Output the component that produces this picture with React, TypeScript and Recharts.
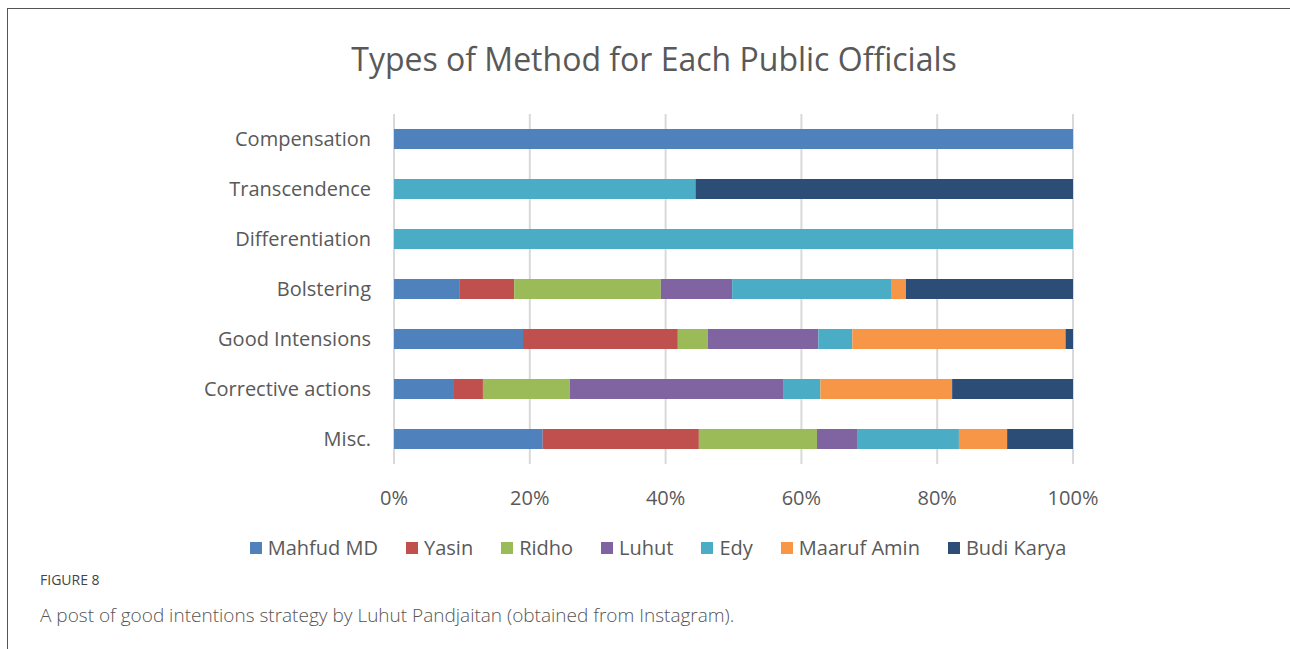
import React from "react";
import {
  BarChart,
  Bar,
  XAxis,
  YAxis,
  CartesianGrid,
} from "recharts";

// categories, top to bottom
const categories = [
  "Compensation",
  "Transcendence",
  "Differentiation",
  "Bolstering",
  "Good Intensions",
  "Corrective actions",
  "Misc.",
];

// share (%) per official in each category
const mahfudMD = [100, 0, 0, 9.7, 19.0, 8.7, 21.9];
const yasin = [0, 0, 0, 8.0, 22.8, 4.4, 23.0];
const ridho = [0, 0, 0, 21.6, 4.4, 12.8, 17.4];
const luhut = [0, 0, 0, 10.5, 16.3, 31.5, 6.0];
const edy = [0, 44.4, 100, 23.4, 5.0, 5.4, 14.9];
const maarufAmin = [0, 0, 0, 2.2, 31.4, 19.4, 7.1];
const budiKarya = [0, 55.6, 0, 24.6, 1.1, 17.8, 9.7];

const xTicks = [0, 0.2, 0.4, 0.6, 0.8, 1];

const SERIES = [
  { key: "Mahfud MD", values: mahfudMD, color: "#4F81BD" },
  { key: "Yasin", values: yasin, color: "#C0504D" },
  { key: "Ridho", values: ridho, color: "#9BBB59" },
  { key: "Luhut", values: luhut, color: "#8064A2" },
  { key: "Edy", values: edy, color: "#4BACC6" },
  { key: "Maaruf Amin", values: maarufAmin, color: "#F79646" },
  { key: "Budi Karya", values: budiKarya, color: "#2C4D75" },
];

const chartData = categories.map((name, i) => {
  const row: Record<string, string | number> = { name };
  SERIES.forEach((s) => {
    row[s.key] = s.values[i];
  });
  return row;
});

const FONT = "'Open Sans', sans-serif";
const TEXT = "#595959";

export default function App() {
  return (
    <div
      style={{
        position: "absolute",
        left: 0,
        top: 0,
        width: 1290,
        height: 649,
        background: "#fff",
        fontFamily: FONT,
        overflow: "hidden",
      }}
    >
      <div
        style={{
          position: "absolute",
          left: 7,
          top: 8,
          right: -20,
          bottom: -20,
          borderTop: "1.5px solid #555",
          borderLeft: "1.5px solid #555",
        }}
      />
      <div
        style={{
          position: "absolute",
          left: 0,
          width: 1308,
          top: 37,
          textAlign: "center",
          fontSize: 32,
          color: TEXT,
        }}
      >
        Types of Method for Each Public Officials
      </div>
      <div style={{ position: "absolute", left: 0, top: 0 }}>
        <BarChart
          width={1290}
          height={649}
          data={chartData}
          layout="vertical"
          stackOffset="expand"
          barSize={20}
          margin={{ top: 114, right: 217, bottom: 145, left: 0 }}
        >
          <CartesianGrid
            horizontal={false}
            stroke="#d9d9d9"
            strokeWidth={2}
          />
          <XAxis
            type="number"
            domain={[0, 1]}
            ticks={xTicks}
            tickFormatter={(v: number) => `${Math.round(v * 100)}%`}
            axisLine={false}
            tickLine={false}
            tickMargin={21}
            height={40}
            tick={{ fill: TEXT, fontSize: 20, fontFamily: FONT }}
          />
          <YAxis
            type="category"
            dataKey="name"
            width={394}
            axisLine={false}
            tickLine={false}
            tickMargin={17}
            tick={{ fill: TEXT, fontSize: 20, fontFamily: FONT }}
          />
          {SERIES.map((s) => (
            <Bar
              key={s.key}
              dataKey={s.key}
              stackId="a"
              fill={s.color}
              isAnimationActive={false}
            />
          ))}
        </BarChart>
      </div>
      <div
        style={{
          position: "absolute",
          left: 0,
          width: 1316,
          top: 534,
          display: "flex",
          justifyContent: "center",
          gap: 28,
          fontSize: 20,
          color: TEXT,
        }}
      >
        {SERIES.map((s) => (
          <div
            key={s.key}
            style={{ display: "flex", alignItems: "center", gap: 6 }}
          >
            <span
              style={{
                display: "inline-block",
                width: 12,
                height: 12,
                background: s.color,
              }}
            />
            <span>{s.key}</span>
          </div>
        ))}
      </div>
      <div
        style={{
          position: "absolute",
          left: 40,
          top: 570,
          fontSize: 14,
          color: "#444",
        }}
      >
        FIGURE 8
      </div>
      <div
        style={{
          position: "absolute",
          left: 40,
          top: 602,
          fontSize: 19,
          color: "#555",
          fontWeight: 300,
        }}
      >
        A post of good intentions strategy by Luhut Pandjaitan (obtained from
        Instagram).
      </div>
    </div>
  );
}
